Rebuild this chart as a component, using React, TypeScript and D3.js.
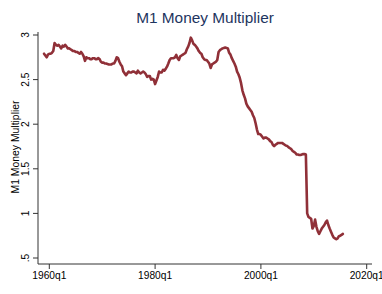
import React, { useEffect } from "react";
import * as d3 from "d3";

const startYear = 1959;
// quarterly values, 1959q1 .. 2015q3
const multiplierValues: number[] = [
  2.79, 2.77, 2.75, 2.78,
  2.79, 2.79, 2.8, 2.82,
  2.91, 2.89, 2.88, 2.89,
  2.87, 2.85, 2.88, 2.87,
  2.89, 2.87, 2.85, 2.85,
  2.84, 2.83, 2.82, 2.82,
  2.81, 2.81, 2.8, 2.79,
  2.81, 2.79, 2.76, 2.71,
  2.75, 2.74, 2.74, 2.73,
  2.73, 2.74, 2.74, 2.73,
  2.73, 2.74, 2.73, 2.7,
  2.69, 2.69, 2.68, 2.68,
  2.675, 2.67, 2.67, 2.67,
  2.68, 2.68, 2.71, 2.75,
  2.74, 2.7, 2.67, 2.65,
  2.59, 2.57, 2.55, 2.57,
  2.59, 2.58, 2.58, 2.59,
  2.59, 2.58, 2.57, 2.6,
  2.58, 2.57, 2.58, 2.59,
  2.58, 2.56, 2.53, 2.54,
  2.54, 2.5, 2.51, 2.5,
  2.45, 2.49, 2.53, 2.59,
  2.58, 2.58, 2.61, 2.6,
  2.62, 2.645, 2.68, 2.72,
  2.74, 2.74, 2.74, 2.75,
  2.776, 2.74, 2.72, 2.76,
  2.77, 2.78, 2.79, 2.8,
  2.84, 2.87, 2.91, 2.97,
  2.94, 2.9, 2.89, 2.87,
  2.85, 2.82, 2.8, 2.79,
  2.75, 2.73, 2.72, 2.72,
  2.7, 2.68, 2.63, 2.67,
  2.68, 2.69, 2.7, 2.72,
  2.81, 2.83, 2.84, 2.85,
  2.855, 2.86, 2.855, 2.85,
  2.8, 2.78, 2.74, 2.71,
  2.68, 2.645, 2.59, 2.56,
  2.52, 2.46, 2.38, 2.33,
  2.29, 2.23, 2.2, 2.18,
  2.16, 2.14, 2.1, 2.07,
  2.01, 1.94, 1.89, 1.89,
  1.88, 1.86, 1.84, 1.85,
  1.85, 1.84, 1.83, 1.81,
  1.8, 1.77, 1.755, 1.77,
  1.78, 1.79, 1.79, 1.79,
  1.79, 1.78, 1.77, 1.76,
  1.755, 1.74, 1.73, 1.72,
  1.7, 1.69, 1.68, 1.66,
  1.66, 1.655, 1.655, 1.66,
  1.665, 1.665, 1.66, 1.0,
  0.96, 0.95, 0.94, 0.83,
  0.86, 0.93, 0.85, 0.8,
  0.77, 0.8, 0.83, 0.85,
  0.87, 0.9, 0.92, 0.87,
  0.83, 0.795, 0.76, 0.73,
  0.72, 0.71, 0.72, 0.745,
  0.75, 0.76, 0.77,
];

const yTicks = [0.5, 1, 1.5, 2, 2.5, 3];
const yTickLabels = [".5", "1", "1.5", "2", "2.5", "3"];
const xTicks = [1960, 1980, 2000, 2020];
const xTickLabels = ["1960q1", "1980q1", "2000q1", "2020q1"];
const title = "M1 Money Multiplier";
const yTitle = "M1 Money Multiplier";

const W = 382;
const H = 294;
const FONT = "'Liberation Sans', Arial, Helvetica, sans-serif";

export default function App() {
  useEffect(() => {
    document.body.style.margin = "0";
  }, []);

  const x = d3.scaleLinear().domain([1960, 2020]).range([49.3, 366.7]);
  const y = d3.scaleLinear().domain([0.5, 3]).range([258, 35]);

  const data = multiplierValues.map((v, i) => ({ t: startYear + i / 4, v }));
  const line = d3
    .line<{ t: number; v: number }>()
    .x((d) => x(d.t))
    .y((d) => y(d.v));

  const axisX0 = 38;
  const axisY0 = 264;
  const axisColor = "#333";

  return (
    <svg
      width={W}
      height={H}
      style={{ position: "absolute", left: 0, top: 0, display: "block" }}
      fontFamily={FONT}
    >
      <rect x={0} y={0} width={W} height={H} fill="#ffffff" />
      <text
        x={205}
        y={23}
        textAnchor="middle"
        fontSize={15.4}
        fill="#1e3560"
      >
        {title}
      </text>
      {/* y axis */}
      <line x1={axisX0} x2={axisX0} y1={y(3) - 3} y2={axisY0} stroke={axisColor} strokeWidth={1} />
      {yTicks.map((t, i) => (
        <g key={t}>
          <line x1={axisX0 - 5} x2={axisX0} y1={y(t)} y2={y(t)} stroke={axisColor} strokeWidth={1} />
          <text
            transform={`translate(${29},${y(t)}) rotate(-90)`}
            textAnchor="middle"
            fontSize={10.2}
            fill="#000"
          >
            {yTickLabels[i]}
          </text>
        </g>
      ))}
      <text
        transform={`translate(${18.5},${147}) rotate(-90)`}
        textAnchor="middle"
        fontSize={10.4}
        fill="#000"
      >
        {yTitle}
      </text>
      {/* x axis */}
      <line x1={axisX0} x2={372} y1={axisY0} y2={axisY0} stroke={axisColor} strokeWidth={1} />
      {xTicks.map((t, i) => (
        <g key={t}>
          <line x1={x(t)} x2={x(t)} y1={axisY0} y2={axisY0 + 5} stroke={axisColor} strokeWidth={1} />
          <text x={x(t)} y={279} textAnchor="middle" fontSize={10.2} fill="#000">
            {xTickLabels[i]}
          </text>
        </g>
      ))}
      <path
        d={line(data) || ""}
        fill="none"
        stroke="#903038"
        strokeWidth={2.6}
        strokeLinejoin="round"
        strokeLinecap="round"
      />
    </svg>
  );
}
